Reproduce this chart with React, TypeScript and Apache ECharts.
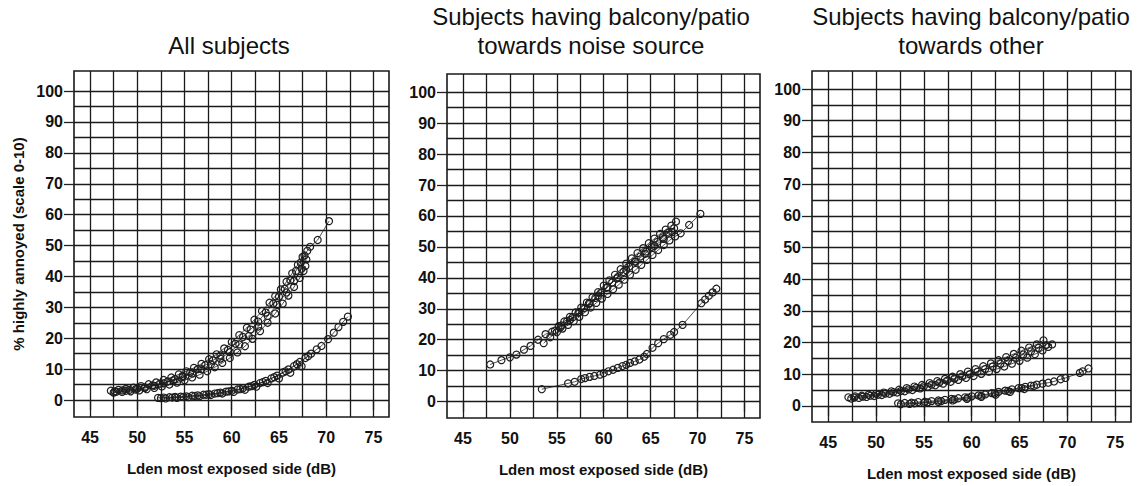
import React, { useEffect, useRef } from "react";
import * as echarts from "echarts";

const FONT = '"Liberation Sans", Arial, Helvetica, sans-serif';

// Titles
const panelTitles = [
  "All subjects",
  "Subjects having balcony/patio\ntowards noise source",
  "Subjects having balcony/patio\ntowards other",
];
const xAxisTitle = "Lden most exposed side (dB)";
const yAxisTitle = "% highly annoyed (scale 0-10)";

// Tick labels and grid lines
const xTickLabels = [45, 50, 55, 60, 65, 70, 75];
const yTickLabels = [0, 10, 20, 30, 40, 50, 60, 70, 80, 90, 100];
const xGridLines = [45, 47.5, 50, 52.5, 55, 57.5, 60, 62.5, 65, 67.5, 70, 72.5, 75];
const yGridLines = [0, 5, 10, 15, 20, 25, 30, 35, 40, 45, 50, 55, 60, 65, 70, 75, 80, 85, 90, 95, 100];

// Panel 1: All subjects
const allUpperA = [
  [47.2, 3.0], [48.0, 3.3], [48.8, 3.6], [49.6, 4.0], [50.4, 4.5], [51.2, 5.1], [52.0, 5.7], [52.8, 6.5],
  [53.6, 7.3], [54.4, 8.3], [55.2, 9.3], [56.0, 10.4], [56.8, 11.7], [57.6, 13.2], [58.4, 14.8], [59.2, 16.7],
  [60.0, 18.8], [60.8, 21.0], [61.6, 23.4], [62.4, 26.0], [63.2, 28.8], [64.0, 31.5], [64.6, 33.6], [65.2, 35.8],
  [65.8, 38.3], [66.4, 41.0], [67.0, 43.8], [67.5, 46.3], [68.0, 48.3], [68.3, 49.6], [69.1, 51.8], [70.3, 57.9],
];
const allUpperB = [
  [47.5, 2.4], [48.4, 2.6], [49.3, 2.8], [50.2, 3.1], [51.0, 3.5], [51.8, 3.9], [52.6, 4.4], [53.4, 5.0],
  [54.2, 5.6], [55.0, 6.4], [55.8, 7.3], [56.6, 8.2], [57.4, 9.3], [58.2, 10.6], [59.0, 12.0], [59.8, 13.6],
  [60.6, 15.4], [61.4, 17.4], [62.2, 19.8], [63.0, 22.3], [63.8, 25.0], [64.6, 28.0], [65.4, 31.2], [66.0, 33.8],
  [66.6, 36.6], [67.2, 39.5], [67.6, 41.8], [67.8, 43.4],
];
const allUpperC = [
  [47.8, 2.7], [48.8, 3.0], [49.8, 3.4], [50.8, 3.9], [51.8, 4.6], [52.8, 5.4], [53.8, 6.3], [54.8, 7.4],
  [55.8, 8.6], [56.8, 10.0], [57.8, 11.6], [58.8, 13.4], [59.8, 15.5], [60.8, 18.0], [61.8, 20.7], [62.8, 23.8],
  [63.8, 27.2], [64.8, 30.8], [65.8, 34.8], [66.6, 38.5], [67.4, 42.5], [67.9, 45.5],
];
const allUpperD = [
  [47.6, 2.8], [48.4, 3.1], [49.2, 3.3], [50.0, 3.7], [50.8, 4.1], [51.6, 4.7], [52.4, 5.3], [53.2, 6.0],
  [54.0, 6.8], [54.8, 7.8], [55.6, 8.9], [56.4, 10.0], [57.2, 11.3], [58.0, 12.8], [58.8, 14.4], [59.6, 16.2],
  [60.4, 18.2], [61.2, 20.4], [62.0, 22.8], [62.8, 25.4], [63.6, 28.3], [64.4, 31.2], [65.0, 33.5], [65.6, 36.0],
  [66.2, 38.8], [66.8, 41.8], [67.3, 44.5], [67.7, 46.8],
];
const allLowerA = [
  [52.2, 0.7], [52.8, 0.8], [53.4, 0.9], [54.0, 1.0], [54.6, 1.1], [55.2, 1.2], [55.8, 1.4], [56.4, 1.5],
  [57.0, 1.7], [57.6, 1.9], [58.2, 2.1], [58.8, 2.4], [59.4, 2.7], [60.0, 3.0], [60.6, 3.4], [61.2, 3.8],
  [61.8, 4.3], [62.4, 4.9], [63.0, 5.5], [63.6, 6.2], [64.2, 7.0], [64.8, 7.9], [65.4, 8.9], [66.0, 9.9],
  [66.6, 11.0], [67.2, 12.3], [67.8, 13.6], [68.4, 15.0], [69.0, 16.4], [69.5, 17.5], [70.2, 19.7], [70.8, 21.8],
  [71.3, 23.6], [71.8, 25.3], [72.3, 27.0],
];
const allLowerB = [
  [53.0, 0.5], [54.2, 0.7], [55.4, 0.9], [56.6, 1.2], [57.8, 1.6], [59.0, 2.1], [60.2, 2.6], [61.4, 3.3],
  [62.6, 4.3], [63.8, 5.5], [65.0, 7.0], [66.2, 8.8], [67.4, 10.9],
];
const allLowerC = [
  [52.5, 0.6], [53.7, 0.8], [54.9, 1.0], [56.1, 1.3], [57.3, 1.7], [58.5, 2.2], [59.7, 2.8], [60.9, 3.5],
  [62.1, 4.5], [63.3, 5.8], [64.5, 7.4], [65.7, 9.3], [66.9, 11.6], [68.1, 14.2],
];

// Panel 2: balcony towards noise source
const noiseUpperA = [
  [47.9, 12.0], [49.1, 13.4], [50.0, 14.3], [50.7, 15.2], [51.5, 16.8], [52.2, 18.0], [53.0, 20.0], [53.8, 21.8],
  [54.5, 22.6], [55.2, 24.4], [55.8, 25.9], [56.4, 27.4], [57.0, 28.8], [57.6, 30.4], [58.2, 32.0], [58.8, 33.7],
  [59.4, 35.4], [60.0, 37.5], [60.6, 39.2], [61.2, 41.0], [61.8, 42.8], [62.4, 44.6], [63.0, 46.3], [63.6, 48.0],
  [64.2, 49.6], [64.8, 51.2], [65.4, 52.7], [66.0, 54.2], [66.6, 55.6], [67.2, 56.9], [67.7, 58.2],
];
const noiseUpperB = [
  [53.6, 18.9], [54.3, 20.8], [55.0, 22.4], [55.6, 23.6], [56.2, 24.8], [56.8, 26.0], [57.4, 27.4], [58.0, 28.9],
  [58.6, 30.4], [59.2, 31.9], [59.8, 33.3], [60.4, 34.8], [61.0, 36.3], [61.6, 37.8], [62.2, 39.4], [62.8, 41.0],
  [63.4, 42.6], [64.0, 44.2], [64.6, 45.8], [65.2, 47.4], [65.8, 49.0], [66.4, 50.6], [67.0, 52.1], [67.6, 53.4],
  [68.2, 54.4], [69.1, 57.1], [70.3, 60.7],
];
const noiseUpperC = [
  [55.4, 24.0], [56.4, 26.4], [57.4, 29.0], [58.4, 31.6], [59.4, 34.3], [60.4, 37.0], [61.4, 39.8], [62.4, 42.5],
  [63.4, 45.2], [64.4, 47.8], [65.4, 50.3], [66.4, 52.6], [67.3, 54.8],
];
const noiseUpperD = [
  [54.8, 22.9], [55.5, 24.6], [56.1, 26.0], [56.7, 27.3], [57.3, 28.7], [57.9, 30.2], [58.5, 31.9], [59.1, 33.5],
  [59.7, 35.2], [60.3, 36.8], [60.9, 38.5], [61.5, 40.2], [62.1, 41.9], [62.7, 43.6], [63.3, 45.3], [63.9, 46.9],
  [64.5, 48.5], [65.1, 50.0], [65.7, 51.6], [66.3, 53.1], [66.9, 54.6], [67.5, 56.0],
];
const noiseLower = [
  [53.4, 4.0], [56.2, 5.9], [56.9, 6.4], [57.6, 7.3], [58.0, 7.6], [58.5, 8.0], [59.0, 8.3], [59.6, 8.7],
  [60.0, 9.2], [60.5, 9.8], [61.0, 10.3], [61.5, 10.9], [62.0, 11.5], [62.4, 11.9], [62.8, 12.5], [63.3, 13.0],
  [63.8, 13.6], [64.3, 14.5], [64.6, 15.4], [65.2, 17.4], [65.8, 18.9], [66.4, 20.2], [67.1, 21.6], [67.5, 22.5],
  [68.4, 24.8], [70.4, 31.8], [70.8, 33.0], [71.2, 34.2], [71.6, 35.3], [72.0, 36.5],
];

// Panel 3: balcony towards other
const otherUpperA = [
  [47.1, 2.7], [47.8, 3.0], [48.5, 3.2], [49.2, 3.5], [50.0, 3.8], [50.8, 4.2], [51.6, 4.6], [52.4, 5.1],
  [53.2, 5.6], [54.0, 6.1], [54.8, 6.6], [55.6, 7.2], [56.4, 7.8], [57.2, 8.5], [58.0, 9.2], [58.8, 10.0],
  [59.6, 10.8], [60.4, 11.6], [61.2, 12.5], [62.0, 13.4], [62.8, 14.4], [63.6, 15.4], [64.4, 16.4], [65.2, 17.4],
  [66.0, 18.4], [66.8, 19.4], [67.5, 20.7],
];
const otherUpperB = [
  [47.4, 2.3], [48.2, 2.5], [49.0, 2.8], [49.8, 3.1], [50.6, 3.4], [51.4, 3.8], [52.2, 4.2], [53.0, 4.6],
  [53.8, 5.0], [54.6, 5.5], [55.4, 6.0], [56.2, 6.5], [57.0, 7.0], [57.8, 7.6], [58.6, 8.2], [59.4, 8.8],
  [60.2, 9.4], [61.0, 10.1], [61.8, 10.8], [62.6, 11.6], [63.4, 12.4], [64.2, 13.3], [65.0, 14.2], [65.8, 15.2],
  [66.6, 16.3], [67.4, 17.5], [68.0, 18.6], [68.4, 19.4],
];
const otherUpperC = [
  [47.7, 2.6], [48.6, 2.9], [49.4, 3.2], [50.2, 3.5], [51.0, 3.9], [51.8, 4.3], [52.6, 4.7], [53.4, 5.2],
  [54.2, 5.7], [55.0, 6.2], [55.8, 6.7], [56.6, 7.3], [57.4, 7.9], [58.2, 8.6], [59.0, 9.3], [59.8, 10.0],
  [60.6, 10.8], [61.4, 11.6], [62.2, 12.4], [63.0, 13.3], [63.8, 14.2], [64.6, 15.2], [65.4, 16.2], [66.2, 17.2],
  [67.0, 18.3], [67.8, 19.2],
];
const otherLowerA = [
  [52.3, 0.8], [53.0, 0.9], [53.7, 1.0], [54.4, 1.2], [55.1, 1.3], [55.8, 1.5], [56.5, 1.7], [57.2, 1.9],
  [57.9, 2.2], [58.6, 2.4], [59.3, 2.7], [60.0, 3.0], [60.7, 3.3], [61.4, 3.6], [62.1, 4.0], [62.8, 4.4],
  [63.5, 4.8], [64.2, 5.2], [64.9, 5.6], [65.6, 6.0], [66.2, 6.4], [66.8, 6.7], [67.4, 7.0], [68.0, 7.3],
  [68.6, 7.7], [69.3, 8.4], [69.8, 8.8], [71.3, 10.4], [71.6, 10.9], [72.2, 11.8],
];
const otherLowerB = [
  [53.5, 0.6], [55.0, 0.9], [56.5, 1.2], [58.0, 1.7], [59.5, 2.2], [61.0, 2.8], [62.5, 3.5], [64.0, 4.4],
  [65.5, 5.3],
];
const otherLowerC = [
  [52.6, 0.5], [54.0, 0.8], [55.4, 1.1], [56.8, 1.5], [58.2, 2.0], [59.6, 2.6], [61.0, 3.2], [62.4, 3.9],
  [63.8, 4.7], [65.2, 5.6], [66.5, 6.3],
];

const panelSeries = [
  [allUpperA, allUpperB, allUpperC, allUpperD, allLowerA, allLowerB, allLowerC],
  [noiseUpperA, noiseUpperB, noiseUpperC, noiseUpperD, noiseLower],
  [otherUpperA, otherUpperB, otherUpperC, otherLowerA, otherLowerB, otherLowerC],
];

const grids = [
  { left: 74, top: 71, width: 315, height: 346, yMin: -5.5, yMax: 106.5, titleX: 229, titleTop: 31 },
  { left: 447, top: 74, width: 313, height: 344, yMin: -5.3, yMax: 105.9, titleX: 591, titleTop: 2 },
  { left: 812, top: 71, width: 319, height: 352, yMin: -5.1, yMax: 105.7, titleX: 971, titleTop: 2 },
];

const INK = "#111111";

export default function App() {
  const ref = useRef<HTMLDivElement>(null);

  useEffect(() => {
    if (!ref.current) return;
    const chart = echarts.init(ref.current, undefined, { renderer: "svg" });

    const labelStyle = { fontSize: 16, fontWeight: "bold", color: INK, fontFamily: FONT };

    const option: any = {
      animation: false,
      backgroundColor: "#ffffff",
      title: grids.map((g, i) => ({
        text: panelTitles[i],
        left: g.titleX,
        top: g.titleTop,
        textAlign: "center",
        padding: 0,
        textStyle: { fontSize: 24, fontWeight: "normal", color: INK, fontFamily: FONT, lineHeight: 29 },
      })),
      grid: grids.map((g) => ({
        left: g.left,
        top: g.top,
        width: g.width,
        height: g.height,
        show: true,
        borderColor: "#1a1a1a",
        borderWidth: 1.6,
        backgroundColor: "transparent",
      })),
      xAxis: grids.map((g, i) => ({
        gridIndex: i,
        type: "value",
        min: 43.3,
        max: 76.65,
        axisLine: { show: false },
        splitLine: { show: false },
        axisTick: { show: true, length: 10, customValues: xTickLabels, lineStyle: { color: "#222", width: 1.3 } },
        axisLabel: { ...labelStyle, margin: 12, customValues: xTickLabels },
        name: xAxisTitle,
        nameLocation: "middle",
        nameGap: 44,
        nameTextStyle: { ...labelStyle, fontSize: 15 },
      })),
      yAxis: grids.map((g, i) => ({
        gridIndex: i,
        type: "value",
        min: g.yMin,
        max: g.yMax,
        axisLine: { show: false },
        splitLine: { show: false },
        axisTick: { show: true, length: 10, customValues: yTickLabels, lineStyle: { color: "#222", width: 1.3 } },
        axisLabel: { ...labelStyle, margin: 11, customValues: yTickLabels },
        name: i === 0 ? yAxisTitle : "",
        nameLocation: "middle",
        nameGap: 48,
        nameTextStyle: { ...labelStyle, fontSize: 15 },
      })),
      series: [] as any[],
    };

    grids.forEach((g, i) => {
      option.series.push({
        type: "line",
        xAxisIndex: i,
        yAxisIndex: i,
        data: [],
        silent: true,
        z: 1,
        markLine: {
          silent: true,
          symbol: ["none", "none"],
          label: { show: false },
          emphasis: { disabled: true },
          lineStyle: { color: "#1a1a1a", width: 1.3, type: "solid" },
          data: [
            ...xGridLines.map((v) => ({ xAxis: v })),
            ...yGridLines.map((v) => ({ yAxis: v })),
          ],
        },
      });
      panelSeries[i].forEach((strand) => {
        option.series.push({
          type: "line",
          xAxisIndex: i,
          yAxisIndex: i,
          data: strand,
          z: 3,
          symbol: "circle",
          symbolSize: 7,
          showSymbol: true,
          lineStyle: { color: "#222", width: 0.8 },
          itemStyle: { color: "rgba(255,255,255,0)", borderColor: "#1e1e1e", borderWidth: 1.2 },
          emphasis: { disabled: true },
        });
      });
    });

    chart.setOption(option);
    return () => chart.dispose();
  }, []);

  return (
    <div
      ref={ref}
      style={{ position: "absolute", left: 0, top: 0, width: 1146, height: 486, background: "#fff" }}
    />
  );
}
